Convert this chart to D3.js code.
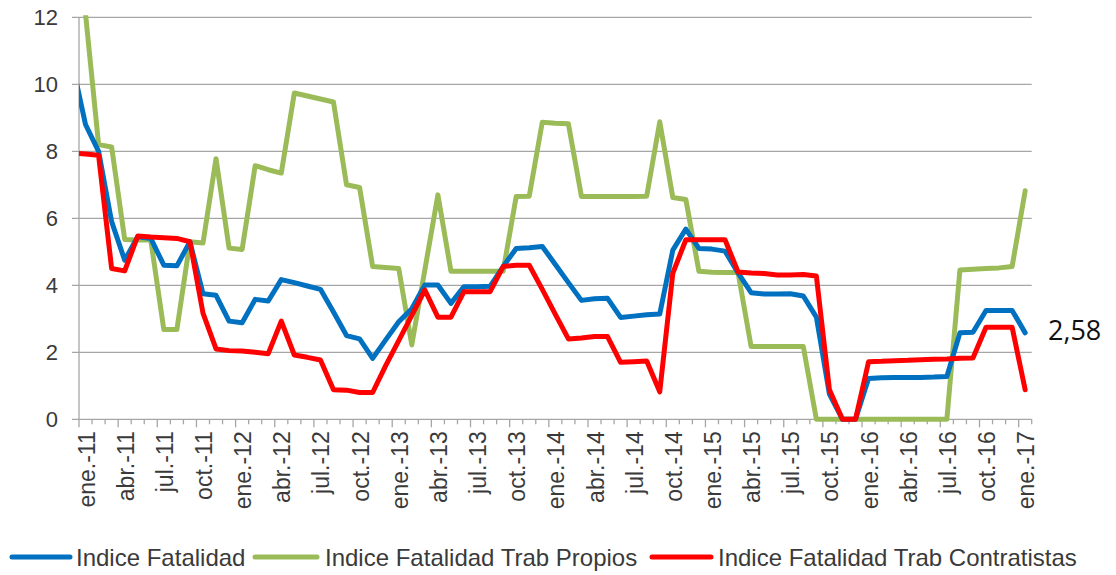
<!DOCTYPE html>
<html>
<head>
<meta charset="utf-8">
<script src="https://cdn.jsdelivr.net/npm/d3@7"></script>
<style>
  html, body { margin: 0; padding: 0; background: #ffffff; }
  svg { display: block; }
</style>
</head>
<body>
<svg id="chart" width="1116" height="575"></svg>
<script>
// Months from dic.-10 (index -1) to ene.-17 (index 72)
const startIndex = -1;
const tickLabels = ["ene.-11","abr.-11","jul.-11","oct.-11","ene.-12","abr.-12","jul.-12","oct.-12",
  "ene.-13","abr.-13","jul.-13","oct.-13","ene.-14","abr.-14","jul.-14","oct.-14",
  "ene.-15","abr.-15","jul.-15","oct.-15","ene.-16","abr.-16","jul.-16","oct.-16","ene.-17"];
const yTicks = [0, 2, 4, 6, 8, 10, 12];

const indiceFatalidad = [10.6,
  8.8, 8.0, 5.9, 4.75, 5.45, 5.4, 4.6, 4.58, 5.3, 3.75, 3.7, 2.93,
  2.88, 3.58, 3.53, 4.17, 4.08, 3.98, 3.88, 3.2, 2.5, 2.4, 1.82, 2.37,
  2.91, 3.3, 4.01, 4.01, 3.46, 3.96, 3.96, 3.97, 4.56, 5.1, 5.12, 5.16,
  4.62, 4.08, 3.55, 3.6, 3.61, 3.04, 3.08, 3.12, 3.14, 5.05, 5.68, 5.1,
  5.08, 5.02, 4.37, 3.78, 3.74, 3.74, 3.75, 3.68, 3.05, 0.75, 0, 0,
  1.22, 1.24, 1.25, 1.25, 1.25, 1.26, 1.28, 2.58, 2.6, 3.25, 3.25, 3.25,
  2.58];

const indicePropios = [14.5,
  12.1, 8.2, 8.13, 5.37, 5.35, 5.35, 2.68, 2.68, 5.3, 5.26, 7.78, 5.11,
  5.07, 7.57, 7.45, 7.35, 9.74, 9.65, 9.56, 9.47, 7.0, 6.92, 4.56, 4.53,
  4.5, 2.22, 4.46, 6.7, 4.42, 4.42, 4.42, 4.42, 4.42, 6.65, 6.66, 8.87,
  8.84, 8.82, 6.65, 6.65, 6.65, 6.65, 6.65, 6.66, 8.88, 6.62, 6.56, 4.42,
  4.39, 4.38, 4.38, 2.17, 2.17, 2.17, 2.17, 2.17, 0, 0, 0, 0,
  0, 0, 0, 0, 0, 0, 0, 4.46, 4.48, 4.5, 4.52, 4.56,
  6.82];

const indiceContratistas = [7.95,
  7.92, 7.88, 4.5, 4.43, 5.47, 5.44, 5.42, 5.4, 5.3, 3.17, 2.1, 2.05,
  2.04, 2.0, 1.96, 2.93, 1.92, 1.85, 1.77, 0.88, 0.87, 0.8, 0.8, 1.6,
  2.35, 3.1, 3.86, 3.05, 3.05, 3.81, 3.81, 3.81, 4.56, 4.6, 4.6, 3.88,
  3.13, 2.4, 2.43, 2.47, 2.47, 1.7, 1.72, 1.74, 0.82, 4.36, 5.36, 5.36,
  5.36, 5.36, 4.4, 4.37, 4.35, 4.31, 4.31, 4.32, 4.28, 0.88, 0, 0,
  1.72, 1.73, 1.75, 1.76, 1.78, 1.79, 1.8, 1.82, 1.83, 2.75, 2.75, 2.75,
  0.88];

const seriesNames = ["Indice Fatalidad", "Indice Fatalidad Trab Propios", "Indice Fatalidad Trab Contratistas"];
const seriesColors = ["#0070C0", "#9BBB59", "#FF0000"];
const seriesValues = [indiceFatalidad, indicePropios, indiceContratistas];
const lastLabel = "2,58";

(function () {
const nCats = 73;
const svg = d3.select("#chart");
const pLeft = 79, pRight = 1031.7, pTop = 17.3, pBottom = 419.3;

const x = d3.scaleLinear().domain([-0.5, nCats - 0.5]).range([pLeft, pRight]);
const y = d3.scaleLinear().domain([0, 12]).range([pBottom, pTop]);

const textColor = "#3a3a3a";
const font = "'Liberation Sans', Arial, sans-serif";

// Gridlines
svg.append("g").selectAll("line").data(yTicks).join("line")
  .attr("x1", pLeft - 7).attr("x2", pRight)
  .attr("y1", d => y(d)).attr("y2", d => y(d))
  .attr("stroke", "#a6a6a6").attr("stroke-width", 1.3);

// Y axis line
svg.append("line").attr("x1", pLeft).attr("x2", pLeft).attr("y1", pTop).attr("y2", pBottom)
  .attr("stroke", "#a6a6a6").attr("stroke-width", 1.3);

// Y labels
svg.append("g").selectAll("text").data(yTicks).join("text")
  .attr("x", pLeft - 21).attr("y", d => y(d))
  .attr("dy", "0.36em").attr("text-anchor", "end")
  .attr("font-family", font).attr("font-size", 22).attr("fill", textColor)
  .text(d => d);

// X axis ticks
const boundaries = d3.range(0, nCats + 1);
svg.append("g").selectAll("line").data(boundaries).join("line")
  .attr("x1", d => x(d - 0.5)).attr("x2", d => x(d - 0.5))
  .attr("y1", pBottom).attr("y2", d => d % 3 === 0 ? pBottom + 8 : pBottom + 5)
  .attr("stroke", "#a6a6a6").attr("stroke-width", 1.3);

// X labels
svg.append("g").selectAll("text").data(tickLabels).join("text")
  .attr("transform", (d, k) => `translate(${x(k * 3) + 9},${pBottom + 12}) rotate(-90)`)
  .attr("text-anchor", "end")
  .attr("font-family", font).attr("font-size", 23).attr("fill", textColor)
  .text(d => d);

// Clip
svg.append("defs").append("clipPath").attr("id", "plotclip")
  .append("rect").attr("x", pLeft).attr("y", pTop - 2).attr("width", pRight - pLeft + 2).attr("height", pBottom - pTop + 8);

const line = d3.line().x((d, k) => x(k + startIndex)).y(d => y(d));

const plot = svg.append("g").attr("clip-path", "url(#plotclip)");
[1, 0, 2].forEach(s => {
  plot.append("path").datum(seriesValues[s])
    .attr("d", line)
    .attr("fill", "none")
    .attr("stroke", seriesColors[s])
    .attr("stroke-width", 5)
    .attr("stroke-linejoin", "round")
    .attr("stroke-linecap", "round");
});

// Last value label
svg.append("text")
  .attr("x", 1048).attr("y", y(indiceFatalidad[indiceFatalidad.length - 1]) - 3)
  .attr("dy", "0.36em")
  .attr("font-family", "'Open Sans', sans-serif").attr("font-size", 27).attr("fill", "#111")
  .text(lastLabel);

// Legend
const legendY = 557;
const legendItems = [
  {x: 12, w: 58, tx: 76},
  {x: 255, w: 62, tx: 325},
  {x: 652, w: 59, tx: 718}
];
legendItems.forEach((it, k) => {
  svg.append("line").attr("x1", it.x).attr("x2", it.x + it.w)
    .attr("y1", legendY).attr("y2", legendY)
    .attr("stroke", seriesColors[k]).attr("stroke-width", 5).attr("stroke-linecap", "round");
  svg.append("text").attr("x", it.tx).attr("y", legendY).attr("dy", "0.36em")
    .attr("font-family", font).attr("font-size", 24).attr("fill", textColor)
    .text(seriesNames[k]);
});
})();
</script>
</body>
</html>
